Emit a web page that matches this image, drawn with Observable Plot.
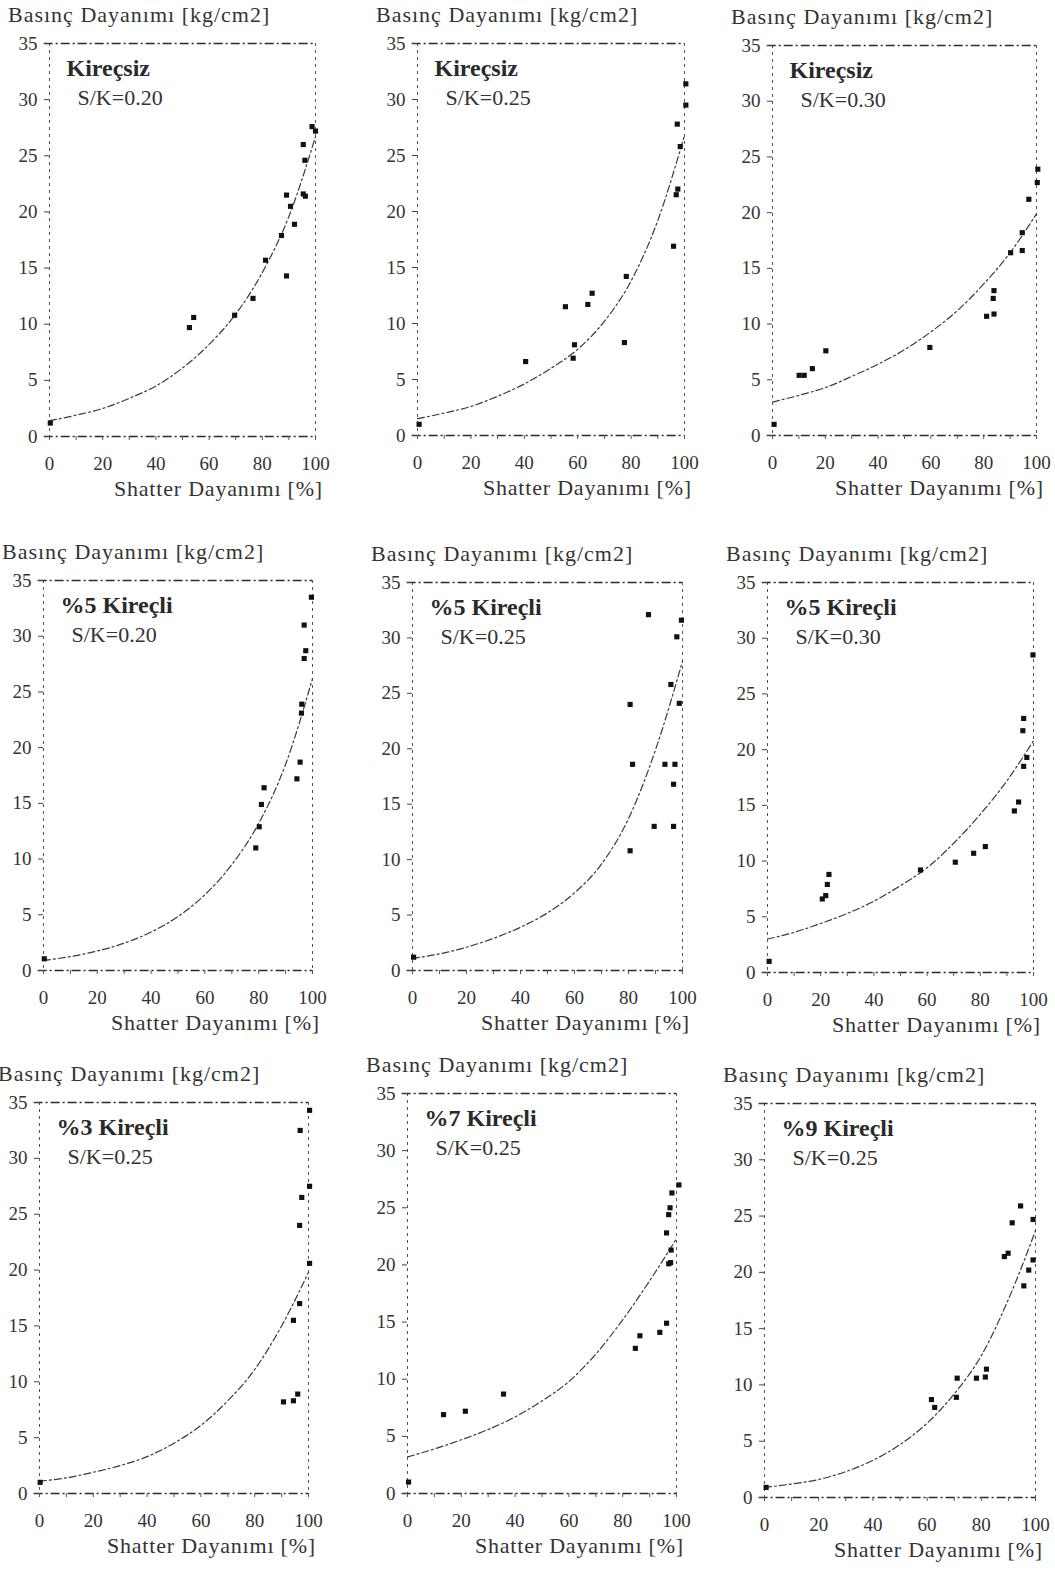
<!DOCTYPE html>
<html><head><meta charset="utf-8">
<script src="https://cdn.jsdelivr.net/npm/d3@7"></script>
<script src="https://cdn.jsdelivr.net/npm/@observablehq/plot@0.6"></script>
<style>
body{margin:0;background:#fff;width:1055px;height:1572px;position:relative;overflow:hidden;font-family:"Liberation Serif","DejaVu Serif",serif;color:#2b2b2b}
.plot{position:absolute}
.ytitle{position:absolute;font-size:22px;line-height:24px;letter-spacing:1px;white-space:nowrap;color:#333}
.xtitle{position:absolute;font-size:22px;line-height:26px;letter-spacing:0.8px;white-space:nowrap;text-align:right;color:#333}
</style></head><body>
<script>
// ---- data ----
const xTicks = [0, 20, 40, 60, 80, 100];
const xMinorTicks = [0, 10, 20, 30, 40, 50, 60, 70, 80, 90, 100];
const yTicks = [0, 5, 10, 15, 20, 25, 30, 35];
const fitX = [0, 10, 20, 30, 40, 50, 60, 70, 80, 90, 100];

const yTitle = "Basınç Dayanımı [kg/cm2]";
const xTitle = "Shatter Dayanımı [%]";

const panelNames = ["Kireçsiz", "Kireçsiz", "Kireçsiz", "%5 Kireçli", "%5 Kireçli", "%5 Kireçli", "%3 Kireçli", "%7 Kireçli", "%9 Kireçli"];
const panelRatios = ["S/K=0.20", "S/K=0.25", "S/K=0.30", "S/K=0.20", "S/K=0.25", "S/K=0.30", "S/K=0.25", "S/K=0.25", "S/K=0.25"];

const kirecsiz020 = [[0.3,1.2],[52.6,9.7],[54.2,10.6],[69.6,10.8],[76.5,12.3],[81.2,15.7],[87.2,17.9],[89.1,21.5],[90.6,20.5],[89.1,14.3],[92.1,18.9],[95.4,26.0],[96.0,24.6],[95.4,21.6],[96.2,21.4],[98.7,27.6],[100,27.2]];
const kirecsiz025 = [[0.6,1.0],[40.5,6.6],[55.4,11.5],[58.3,6.9],[58.8,8.1],[63.8,11.7],[65.4,12.7],[77.5,8.3],[78.2,14.2],[95.9,16.9],[96.9,21.5],[97.5,22.0],[97.3,27.8],[98.4,25.8],[100.5,31.4],[100.5,29.5]];
const kirecsiz030 = [[0.6,1.0],[10.1,5.4],[12.0,5.4],[15.1,6.0],[20.2,7.6],[59.6,7.9],[81.1,10.7],[83.9,10.9],[83.6,12.3],[83.9,13.0],[90.2,16.4],[94.6,16.6],[94.6,18.2],[97.1,21.2],[100.5,23.9],[100.3,22.7]];
const kirecli5_020 = [[0.3,1.05],[78.9,11.0],[80.2,12.9],[81.0,14.9],[82.0,16.4],[94.2,17.2],[95.4,18.7],[95.9,23.1],[96.0,23.9],[96.9,28.0],[97.5,28.7],[96.9,31.0],[99.6,33.5]];
const kirecli5_025 = [[0.4,1.2],[80.6,10.8],[81.5,18.6],[80.6,24.0],[87.4,32.1],[89.5,13.0],[93.5,18.6],[96.7,13.0],[97.2,18.6],[96.7,16.8],[95.7,25.8],[98.8,24.1],[97.9,30.1],[99.6,31.6]];
const kirecli5_030 = [[0.6,1.0],[20.6,6.6],[21.9,6.9],[22.5,7.9],[23.1,8.8],[57.5,9.2],[70.6,9.9],[77.5,10.7],[81.9,11.3],[92.8,14.5],[94.4,15.3],[96.3,18.5],[97.5,19.3],[96.0,21.7],[96.3,22.8],[99.8,28.5]];
const kirecli3_025 = [[0.25,1.0],[90.7,8.2],[94.4,8.3],[96.0,8.9],[94.4,15.5],[96.7,17.0],[100.4,20.6],[96.7,24.0],[97.5,26.5],[100.4,27.5],[96.9,32.5],[100.4,34.3]];
const kirecli7_025 = [[0.4,1.0],[13.4,6.9],[21.5,7.2],[35.7,8.7],[84.7,12.7],[86.4,13.8],[93.8,14.1],[96.3,14.9],[96.3,22.8],[97.1,24.4],[97.6,25.0],[97.1,20.1],[97.8,20.2],[98.0,21.3],[98.3,26.3],[100.9,27.0]];
const kirecli9_025 = [[0.6,0.9],[61.6,8.7],[62.8,8.0],[71.1,10.6],[70.8,8.9],[78.2,10.6],[81.5,10.7],[81.9,11.4],[88.5,21.4],[89.9,21.7],[91.4,24.4],[94.5,25.9],[95.7,18.8],[97.5,20.2],[99.1,21.1],[99.1,24.7]];

const fitK020 = [1.4,1.9,2.5,3.4,4.5,6.1,8.2,10.9,14.6,19.6,26.7];
const fitK025 = [1.5,2.0,2.6,3.5,4.6,6.0,7.7,10.2,13.8,19.2,26.8];
const fitK030 = [3.0,3.6,4.3,5.3,6.4,7.7,9.3,11.2,13.6,16.4,19.9];
const fitL5_020 = [0.9,1.25,1.75,2.45,3.45,4.85,6.8,9.5,13.2,18.5,26.2];
const fitL5_025 = [1.1,1.5,2.1,2.9,3.9,5.2,7.0,9.6,13.7,19.9,27.9];
const fitL5_030 = [3.0,3.6,4.4,5.3,6.4,7.8,9.4,11.6,14.2,17.2,20.8];
const fitL3_025 = [1.1,1.4,1.9,2.5,3.3,4.5,6.1,8.3,11.1,15.0,19.8];
const fitL7_025 = [3.2,3.9,4.7,5.6,6.7,8.1,9.8,12.2,15.2,18.6,22.3];
const fitL9_025 = [0.9,1.2,1.6,2.3,3.3,4.7,6.6,9.2,12.6,17.6,23.7];

const panelPoints = [kirecsiz020, kirecsiz025, kirecsiz030, kirecli5_020, kirecli5_025, kirecli5_030, kirecli3_025, kirecli7_025, kirecli9_025];
const panelFits = [fitK020, fitK025, fitK030, fitL5_020, fitL5_025, fitL5_030, fitL3_025, fitL7_025, fitL9_025];

// ---- layout (page pixels of x=0, x=100, y=35, y=0 for each panel) ----
const layout = [
  [49, 315, 43, 436], [417, 684, 43, 435], [772, 1036, 45, 435],
  [43, 312, 580, 970], [412, 682, 582, 970], [767, 1033, 582, 972],
  [39, 308, 1102, 1493], [407, 676, 1093, 1493], [764, 1035, 1103, 1497]
];
const ML = 50, MR = 24, MT = 16, MB = 46;
const ink = "#2b2b2b";
const dashDot = "9,3,2,3";

panelPoints.forEach((pts, i) => {
  const [x0, x1, yTop, yBot] = layout[i];
  const w = x1 - x0, h = yBot - yTop;
  const fit = fitX.map((x, j) => ({x, y: panelFits[i][j]}));
  const chart = Plot.plot({
    width: w + ML + MR,
    height: h + MT + MB,
    marginLeft: ML, marginRight: MR, marginTop: MT, marginBottom: MB,
    style: {fontFamily: "'Liberation Serif', 'DejaVu Serif', serif", color: "#333", background: "transparent", overflow: "visible"},
    x: {domain: [0, 100], label: null},
    y: {domain: [0, 35], label: null},
    marks: [
      Plot.ruleX([0, 100], {stroke: "#555", strokeWidth: 1, strokeDasharray: "3,4"}),
      Plot.ruleY([0, 35], {x1: -2, x2: 100, stroke: ink, strokeWidth: 1.3, strokeDasharray: dashDot}),
      Plot.axisY(yTicks, {tickSize: 5, tickPadding: 7, fontSize: 19, stroke: "#444"}),
      Plot.axisX(xMinorTicks, {tickSize: 4, tickFormat: () => "", stroke: "#555"}),
      Plot.axisX(xTicks, {tickSize: 0, tickPadding: 20, fontSize: 19}),
      Plot.line(fit, {x: "x", y: "y", curve: "monotone-x", stroke: "#3a3a3a", strokeWidth: 1.2, strokeDasharray: "7,3,2,3"}),
      Plot.dot(pts, {x: d => d[0], y: d => d[1], symbol: "square", r: 2.9, fill: "#111", stroke: null}),
      Plot.text([panelNames[i]], {frameAnchor: "top-left", dx: 17, dy: 32, lineAnchor: "bottom", textAnchor: "start", fontSize: 24, fontWeight: "bold", fill: "#2a2a2a", style: "letter-spacing:1.2px"}),
      Plot.text([panelRatios[i]], {frameAnchor: "top-left", dx: 28, dy: 61, lineAnchor: "bottom", textAnchor: "start", fontSize: 22, fill: "#333"})
    ]
  });
  chart.classList.add("plot");
  chart.style.left = (x0 - ML) + "px";
  chart.style.top = (yTop - MT) + "px";
  document.body.appendChild(chart);

  const t = document.createElement("div");
  t.className = "ytitle";
  t.textContent = yTitle;
  t.style.left = (x0 - 41) + "px";
  t.style.top = (yTop - 40) + "px";
  document.body.appendChild(t);

  const xt = document.createElement("div");
  xt.className = "xtitle";
  xt.textContent = xTitle;
  xt.style.right = (1055 - (x1 + 8)) + "px";
  xt.style.top = (yBot + 40) + "px";
  document.body.appendChild(xt);
});
</script>
</body></html>
